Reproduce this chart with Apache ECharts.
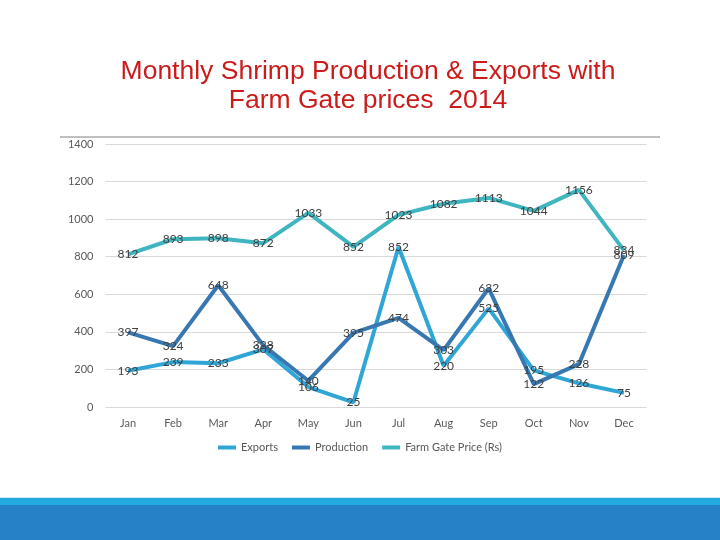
<!DOCTYPE html>
<html><head><meta charset="utf-8">
<script src="https://cdn.jsdelivr.net/npm/echarts@6/dist/echarts.min.js"></script>
<style>html,body{margin:0;padding:0;background:#fff}#c{width:720px;height:540px}</style>
</head><body><div id="c"></div>
<script>
const categories = ['Jan','Feb','Mar','Apr','May','Jun','Jul','Aug','Sep','Oct','Nov','Dec'];
const exportsData = [193, 239, 233, 307, 106, 25, 852, 220, 525, 195, 126, 75];
const productionData = [397, 324, 648, 328, 140, 395, 474, 303, 632, 122, 228, 809];
const farmGateData = [812, 893, 898, 872, 1033, 852, 1023, 1082, 1113, 1044, 1156, 834];
const yTicks = [0, 200, 400, 600, 800, 1000, 1200, 1400];
const colors = ['#2fa6d6', '#3878b2', '#3fb6bf'];
const names = ['Exports', 'Production', 'Farm Gate Price (Rs)'];

const chart = echarts.init(document.getElementById('c'));
const lbl = {show: true, position: 'inside', align: 'center', verticalAlign: 'middle',
  fontFamily: 'Lato', fontSize: 12, color: '#404040'};
function mk(name, data, color) {
  return {name, type: 'line', data, symbol: 'circle', symbolSize: 2, showSymbol: true,
    lineStyle: {width: 4, color}, itemStyle: {color: 'rgba(0,0,0,0)', borderWidth: 0},
    label: lbl, labelLayout: {hideOverlap: false}, emphasis: {disabled: true}, animation: false, z: 2};
}
chart.setOption({
  animation: false,
  title: {text: 'Monthly Shrimp Production & Exports with\nFarm Gate prices  2014', left: 363, top: 52, textAlign: 'center',
    textStyle: {color: '#cc1b1b', fontFamily: 'Liberation Sans', fontSize: 26.5, fontWeight: 'normal', lineHeight: 29}},
  grid: {left: 105.5, right: 73.5, top: 144, bottom: 133},
  xAxis: {type: 'category', data: categories, boundaryGap: true,
    axisLine: {show: false}, axisTick: {show: false},
    axisLabel: {color: '#595959', fontFamily: 'Lato', fontSize: 11, margin: 11}},
  yAxis: {type: 'value', min: yTicks[0], max: yTicks[yTicks.length-1], interval: 200,
    axisLine: {show: false}, axisTick: {show: false},
    axisLabel: {color: '#595959', fontFamily: 'Lato', fontSize: 11, margin: 12, formatter: v => String(v)},
    splitLine: {lineStyle: {color: '#d9d9d9', width: 1}}},
  legend: {bottom: 82, left: 'center', itemWidth: 18, itemHeight: 4, itemGap: 14, icon: 'rect',
    data: names.map((n, i) => ({name: n, itemStyle: {color: colors[i], opacity: 1}})),
    textStyle: {color: '#595959', fontFamily: 'Lato', fontSize: 11}},
  series: [
    mk(names[0], exportsData, colors[0]),
    mk(names[1], productionData, colors[1]),
    mk(names[2], farmGateData, colors[2])
  ],
  graphic: [
    {type: 'line', shape: {x1: 60, y1: 137, x2: 660, y2: 137}, style: {stroke: '#808080', lineWidth: 1}},
    {type: 'rect', shape: {x: 0, y: 497, width: 720, height: 1}, style: {fill: '#cdeaf5'}},
    {type: 'rect', shape: {x: 0, y: 498, width: 720, height: 7}, style: {fill: '#22aadf'}},
    {type: 'rect', shape: {x: 0, y: 505, width: 720, height: 35}, style: {fill: '#2782c5'}}
  ]
});
</script></body></html>
